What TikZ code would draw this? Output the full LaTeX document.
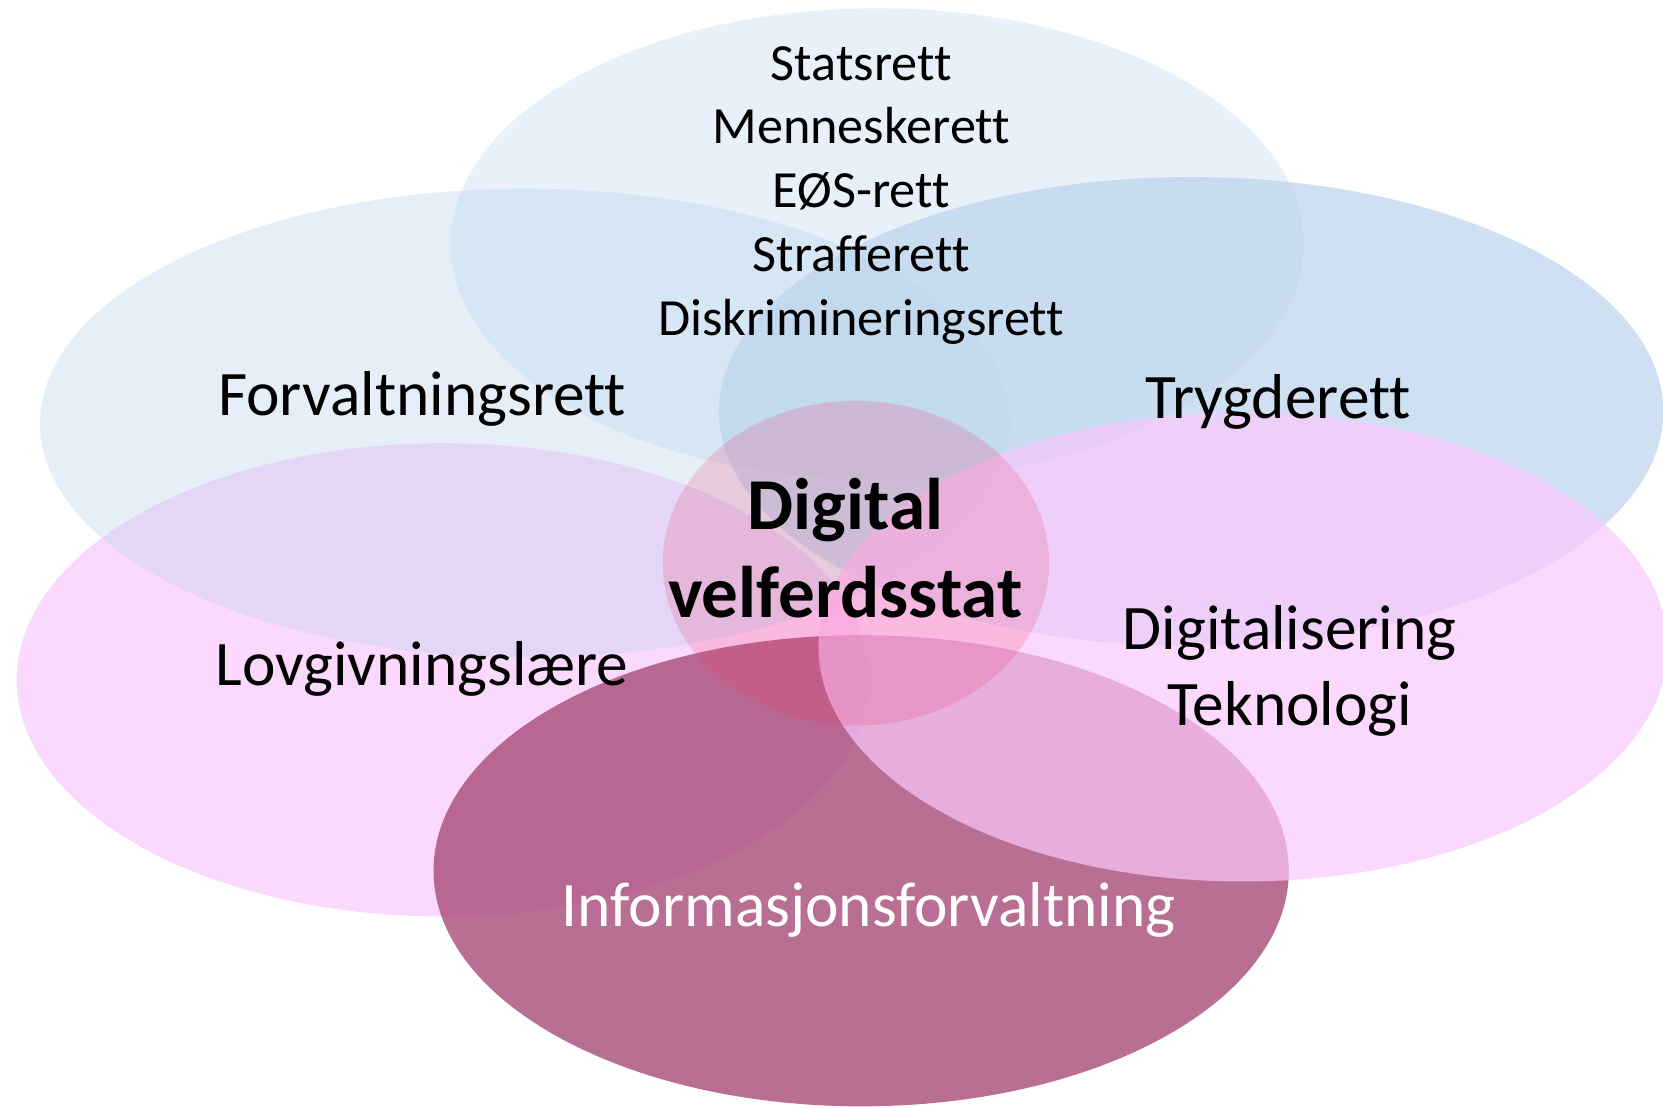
\documentclass[tikz,border=0pt]{standalone}
\usepackage{fontspec}
\setmainfont{Carlito}[Ligatures={NoCommon,NoContextual}, Contextuals=NoAlternate]
\definecolor{lysblaa}{RGB}{185,211,236}
\definecolor{rosa}{RGB}{250,200,252}
\definecolor{plomme}{RGB}{168,75,121}
\definecolor{kjerne}{RGB}{240,60,110}
\begin{document}
\begin{tikzpicture}[x=0.01cm, y=-0.01cm,
  felt/.style={font=\fontsize{17}{20.4}\selectfont, align=center},
  liste/.style={font=\fontsize{14}{17.1}\selectfont, align=center},
  kjernetekst/.style={font=\fontsize{19.6}{23.5}\selectfont\bfseries, align=center}]
\useasboundingbox (0,0) rectangle (1568,1044);
% fagfelt
\fill[rosa, fill opacity=0.7] (418,641) ellipse [x radius=4.02cm, y radius=2.23cm];
\fill[lysblaa, fill opacity=0.36] (495,399) ellipse [x radius=4.57cm, y radius=2.21cm];
\fill[lysblaa, fill opacity=0.33] (827,230) ellipse [x radius=4.02cm, y radius=2.22cm];
\fill[lysblaa, fill opacity=0.7] (1123,388) ellipse [x radius=4.45cm, y radius=2.21cm];
\fill[plomme, fill opacity=0.8] (812,821) ellipse [x radius=4.03cm, y radius=2.22cm];
\fill[rosa, fill opacity=0.7] (1172,610) ellipse [x radius=4.00cm, y radius=2.21cm];
\fill[kjerne, fill opacity=0.2] (807,531) ellipse [x radius=1.82cm, y radius=1.53cm];
% tekst
\node[liste] (rett) at (812,184) {Statsrett\\Menneskerett\\EØS-rett\\Strafferett\\Diskrimineringsrett};
\node[felt] (forv) at (398,376) {Forvaltningsrett};
\node[felt] (trygd) at (1205,379) {Trygderett};
\node[felt] (lovg) at (398,631) {Lovgivningslære};
\node[felt] (dig) at (1216,633) {Digitalisering\\Teknologi};
\node[felt, text=white] (info) at (819,858) {Informasjonsforvaltning};
\node[kjernetekst] (velferd) at (797,517) {Digital\\velferdsstat};
\end{tikzpicture}
\end{document}
